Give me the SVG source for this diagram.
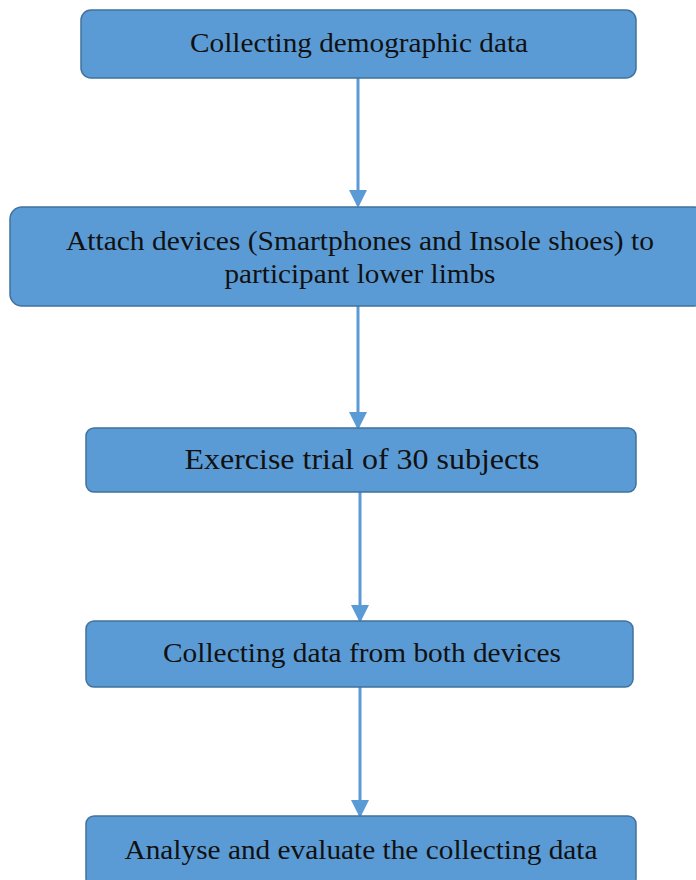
<svg xmlns="http://www.w3.org/2000/svg" width="696" height="880" viewBox="0 0 696 880">
  <style>
    .box { fill: #5b9bd5; stroke: #41719c; stroke-width: 1.5; }
    .lbl { font-family: "Liberation Serif", "Times New Roman", serif; font-size: 28px; fill: #111; text-anchor: middle; }
    .conn { stroke: #5b9bd5; stroke-width: 3; fill: none; }
  </style>
  <defs>
    <marker id="arrow" markerWidth="6" markerHeight="6" refX="5" refY="3" orient="auto" markerUnits="strokeWidth">
      <path d="M0,0 L6,3 L0,6 Z" fill="#5b9bd5"/>
    </marker>
  </defs>
  <rect width="696" height="880" fill="#ffffff"/>

  <g id="connectors">
    <line class="conn" x1="358" y1="78" x2="358" y2="205" marker-end="url(#arrow)"/>
    <line class="conn" x1="358" y1="306" x2="358" y2="427" marker-end="url(#arrow)"/>
    <line class="conn" x1="360" y1="492" x2="360" y2="620" marker-end="url(#arrow)"/>
    <line class="conn" x1="360" y1="687" x2="360" y2="815" marker-end="url(#arrow)"/>
  </g>

  <g id="node-demographic">
    <rect class="box" x="81" y="10" width="555" height="68" rx="10"/>
    <text class="lbl" x="359" y="52" textLength="338" lengthAdjust="spacingAndGlyphs">Collecting demographic data</text>
  </g>

  <g id="node-attach">
    <rect class="box" x="10" y="207" width="696" height="99" rx="12"/>
    <text class="lbl" x="360" y="250" textLength="588" lengthAdjust="spacingAndGlyphs">Attach devices (Smartphones and Insole shoes) to</text>
    <text class="lbl" x="360" y="283" textLength="271" lengthAdjust="spacingAndGlyphs">participant lower limbs</text>
  </g>

  <g id="node-exercise">
    <rect class="box" x="86" y="428" width="550" height="64" rx="8"/>
    <text class="lbl" x="362" y="469" style="font-size:30px" textLength="355" lengthAdjust="spacingAndGlyphs">Exercise trial of 30 subjects</text>
  </g>

  <g id="node-collect">
    <rect class="box" x="86" y="621" width="547" height="66" rx="8"/>
    <text class="lbl" x="362" y="662" textLength="398" lengthAdjust="spacingAndGlyphs">Collecting data from both devices</text>
  </g>

  <g id="node-analyse">
    <rect class="box" x="86" y="816" width="550" height="70" rx="8"/>
    <text class="lbl" x="361" y="859" textLength="473" lengthAdjust="spacingAndGlyphs">Analyse and evaluate the collecting data</text>
  </g>
</svg>
